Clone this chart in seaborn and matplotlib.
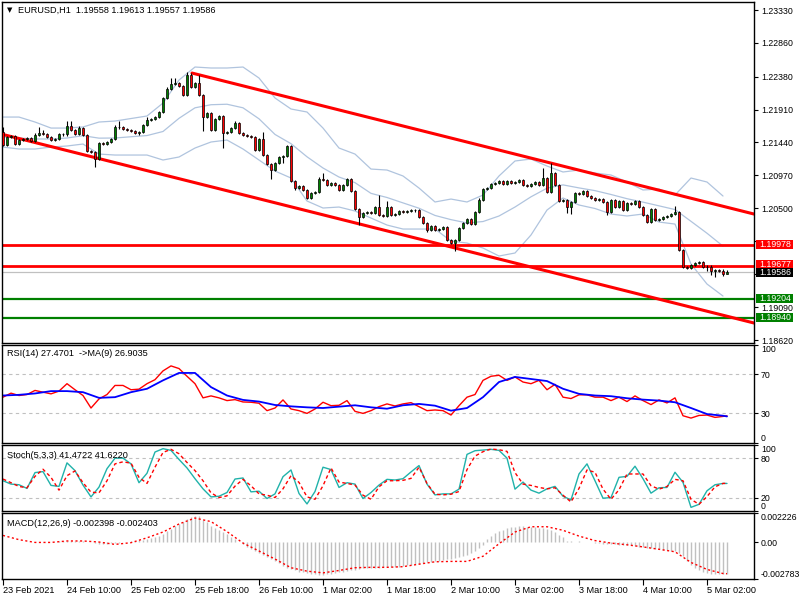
import numpy as np
import pandas as pd
import seaborn as sns
import matplotlib.pyplot as plt
from matplotlib import transforms
from matplotlib.patches import Rectangle

# ----------------------------
# EURUSD H1 candles (open of each bar = previous close)
# ----------------------------
first_open = 1.21589
close = [
    1.21404, 1.21518, 1.21532, 1.21418, 1.21475, 1.21490, 1.21504, 1.21461, 1.21547, 1.21575,
    1.21561, 1.21518, 1.21475, 1.21490, 1.21561, 1.21555, 1.21675, 1.21618, 1.21561, 1.21646,
    1.21547, 1.21318, 1.21304, 1.21204, 1.21432, 1.21425, 1.21447, 1.21490, 1.21661, 1.21655,
    1.21632, 1.21618, 1.21604, 1.21575, 1.21589, 1.21689, 1.21761, 1.21775, 1.21803, 1.21875,
    1.22075, 1.22203, 1.22274, 1.22289, 1.22246, 1.22117, 1.22403, 1.22232, 1.22289, 1.22117,
    1.21803, 1.21860, 1.21618, 1.21775, 1.21818, 1.21575, 1.21589, 1.21646, 1.21718, 1.21575,
    1.21547, 1.21532, 1.21518, 1.21333, 1.21490, 1.21261, 1.21133, 1.21047, 1.21147, 1.21233,
    1.21247, 1.21390, 1.20890, 1.20790, 1.20819, 1.20762, 1.20648, 1.20719, 1.20733, 1.20919,
    1.20904, 1.20833, 1.20862, 1.20833, 1.20762, 1.20833, 1.20919, 1.20747, 1.20491, 1.20376,
    1.20434, 1.20448, 1.20440, 1.20519, 1.20405, 1.20391, 1.20519, 1.20405, 1.20419, 1.20462,
    1.20448, 1.20462, 1.20476, 1.20470, 1.20376, 1.20291, 1.20191, 1.20248, 1.20191, 1.20205,
    1.20234, 1.20048, 1.20005, 1.20048, 1.20219, 1.20291, 1.20348, 1.20276, 1.20448, 1.20619,
    1.20776, 1.20790, 1.20847, 1.20862, 1.20890, 1.20847, 1.20890, 1.20862, 1.20876, 1.20904,
    1.20833, 1.20819, 1.20847, 1.20876, 1.20833, 1.20933, 1.20733, 1.21004, 1.20833, 1.20605,
    1.20619, 1.20519, 1.20591, 1.20719, 1.20705, 1.20747, 1.20676, 1.20648, 1.20619, 1.20633,
    1.20591, 1.20448, 1.20619, 1.20519, 1.20605, 1.20476, 1.20576, 1.20562, 1.20605, 1.20519,
    1.20405, 1.20305, 1.20491, 1.20334, 1.20348, 1.20376, 1.20391, 1.20419, 1.20448, 1.19906,
    1.19663, 1.19655, 1.19691, 1.19720, 1.19734, 1.19663, 1.19670, 1.19606, 1.19620, 1.19612,
    1.19558, 1.19586,
]
# wick lengths above / below the body, in pips
wick_up = [
    7, 2, 2, 2, 2, 2, 2, 2, 3, 9,   4, 2, 2, 2, 2, 2, 7, 7, 2, 3,
    2, 2, 2, 2, 2, 2, 2, 2, 3, 9,   2, 2, 2, 2, 2, 2, 4, 2, 2, 2,
    2, 3, 9, 7, 2, 2, 4, 3, 2, 11,  2, 2, 2, 2, 2, 2, 2, 2, 3, 2,
    2, 2, 2, 2, 2, 10, 2, 2, 2, 2,  2, 2, 2, 2, 2, 2, 2, 2, 2, 3,
    9, 2, 2, 2, 2, 2, 2, 2, 2, 2,   2, 2, 2, 2, 17, 2, 9, 2, 2, 2,
    2, 2, 2, 2, 2, 2, 2, 2, 2, 2,   2, 2, 2, 2, 2, 2, 2, 2, 2, 3,
    2, 2, 2, 2, 2, 2, 2, 2, 2, 2,   2, 2, 2, 2, 2, 14, 2, 14, 2, 2,
    2, 2, 2, 2, 2, 2, 2, 2, 2, 2,   2, 2, 2, 2, 2, 2, 2, 2, 2, 2,
    2, 2, 2, 2, 2, 2, 2, 2, 9, 2,   2, 2, 2, 2, 2, 2, 2, 2, 2, 2,
    2, 3,
]
wick_dn = [
    2, 2, 2, 2, 2, 2, 2, 2, 2, 2,   2, 2, 2, 2, 2, 2, 2, 2, 2, 2,
    2, 2, 2, 11, 2, 2, 2, 2, 2, 2,  2, 2, 2, 2, 3, 2, 2, 2, 2, 2,
    2, 2, 2, 2, 2, 2, 2, 2, 2, 2,   20, 2, 2, 2, 2, 21, 2, 2, 2, 2,
    2, 2, 2, 2, 2, 2, 2, 13, 2, 2,  9, 2, 2, 3, 2, 2, 2, 2, 2, 2,
    2, 2, 2, 2, 2, 2, 2, 2, 2, 11,  2, 2, 2, 2, 2, 2, 2, 2, 2, 2,
    2, 2, 2, 2, 2, 2, 3, 2, 2, 2,   2, 2, 2, 11, 2, 2, 2, 2, 2, 2,
    2, 2, 2, 2, 2, 2, 2, 2, 2, 2,   2, 2, 2, 2, 2, 2, 2, 2, 2, 2,
    2, 9, 10, 2, 2, 2, 2, 2, 2, 2,  2, 4, 2, 2, 2, 2, 2, 2, 2, 2,
    2, 2, 2, 2, 2, 2, 2, 2, 2, 2,   2, 2, 2, 2, 2, 2, 6, 6, 8, 2,
    3, 0,
]

# Bollinger bands (20, 2), read every 4th bar
bb_bars = list(range(0, 181, 4))
bb_upper = [
    1.21803, 1.21803, 1.21732, 1.21646, 1.21646, 1.21661, 1.21732, 1.21746, 1.21782, 1.21818,
    1.22003, 1.22331, 1.22517, 1.22503, 1.22503, 1.22517, 1.22360, 1.22075, 1.21918, 1.21875,
    1.21646, 1.21361, 1.21275, 1.21061, 1.21047, 1.20962, 1.20790, 1.20591, 1.20633, 1.20591,
    1.20690, 1.20962, 1.21176, 1.21204, 1.21104, 1.21019, 1.21047, 1.21004, 1.20976, 1.20876,
    1.20762, 1.20776, 1.20690, 1.20933, 1.20876, 1.20676,
]
bb_mid = [
    1.21518, 1.21504, 1.21490, 1.21490, 1.21504, 1.21537, 1.21502, 1.21504, 1.21522, 1.21539,
    1.21597, 1.21785, 1.21935, 1.21979, 1.21986, 1.21935, 1.21778, 1.21555, 1.21423, 1.21236,
    1.21076, 1.20947, 1.20867, 1.20714, 1.20655, 1.20578, 1.20502, 1.20399, 1.20339, 1.20292,
    1.20312, 1.20391, 1.20519, 1.20665, 1.20788, 1.20835, 1.20792, 1.20753, 1.20698, 1.20638,
    1.20589, 1.20536, 1.20483, 1.20315, 1.20145, 1.19961,
]
bb_lower = [
    1.21375, 1.21347, 1.21347, 1.21375, 1.21390, 1.21418, 1.21275, 1.21261, 1.21261, 1.21261,
    1.21190, 1.21233, 1.21361, 1.21447, 1.21475, 1.21347, 1.21190, 1.21033, 1.20933, 1.20605,
    1.20505, 1.20519, 1.20462, 1.20362, 1.20262, 1.20205, 1.20205, 1.20205, 1.20034, 1.20005,
    1.19934, 1.19820, 1.19863, 1.20120, 1.20476, 1.20648, 1.20548, 1.20498, 1.20419, 1.20391,
    1.20419, 1.20305, 1.20276, 1.19706, 1.19420, 1.19249,
]

# trend channel anchors (bar, price) and horizontal levels
chan_upper_bars = [47.25, 187.75]
chan_upper_px = [1.22431, 1.20419]
chan_lower_bars = [-0.2, 187.75]
chan_lower_px = [1.21557, 1.18864]
red_levels = [1.19978, 1.19677]
green_levels = [1.19204, 1.18940]
bid = 1.19586

price_ticks = [1.23330, 1.22860, 1.22380, 1.21910, 1.21440, 1.20970,
               1.20500, 1.20030, 1.19560, 1.19090, 1.18620]
price_tick_labels = ["1.23330", "1.22860", "1.22380", "1.21910", "1.21440", "1.20970",
                     "1.20500", "", "", "1.19090", "1.18620"]   # two sit under the boxes

# ----------------------------
# Indicators
# ----------------------------
rsi_bars = list(range(0, 181, 2)) + [181]
rsi = [
    46.6, 50.7, 48.3, 49.3, 53.5, 51.7, 50.0, 52.8, 60.4, 54.2,
    48.3, 35.5, 44.8, 49.3, 58.6, 58.6, 54.2, 54.8, 60.4, 64.5,
    73.5, 78.6, 75.9, 68.0, 60.4, 45.9, 47.9, 45.9, 43.1, 44.1,
    41.7, 41.4, 40.4, 32.8, 35.5, 43.8, 34.5, 32.8, 30.0, 34.5,
    41.4, 37.9, 38.3, 43.1, 32.1, 30.0, 32.8, 36.9, 39.7, 37.6,
    39.7, 41.0, 36.9, 32.8, 33.5, 32.8, 28.3, 37.9, 46.6, 49.3,
    63.8, 68.0, 69.0, 63.8, 67.3, 62.1, 60.4, 63.8, 54.2, 59.7,
    46.6, 45.2, 49.0, 49.0, 46.6, 46.6, 43.1, 46.6, 42.1, 47.9,
    43.1, 39.0, 43.8, 40.7, 45.9, 27.6, 25.2, 27.9, 28.3, 25.9,
    26.9, 27.47,
]
rsi_ma_bars = list(range(0, 181, 4)) + [181]
rsi_ma = [
    48.3, 49.0, 50.4, 52.8, 52.8, 51.7, 45.9, 46.6, 51.7, 55.2,
    63.8, 71.4, 71.4, 56.9, 48.3, 43.8, 42.1, 38.6, 37.2, 36.2,
    35.5, 36.9, 38.3, 36.2, 34.8, 38.3, 39.7, 37.9, 32.8, 35.5,
    46.6, 62.1, 67.3, 65.2, 63.1, 55.2, 50.0, 48.3, 47.6, 45.5,
    44.1, 43.1, 41.4, 35.5, 29.3, 27.6, 26.9,
]

stoch_bars = list(range(0, 181, 2)) + [181]
stoch_k = [
    45.6, 40.5, 39.5, 33.9, 58.0, 59.5, 38.5, 37.0, 72.8, 61.0,
    39.0, 21.0, 35.9, 64.0, 80.0, 80.0, 71.3, 42.6, 57.0, 89.3,
    94.4, 91.8, 78.0, 65.1, 48.7, 33.3, 21.0, 22.0, 27.7, 48.2,
    49.8, 28.7, 29.7, 18.5, 25.6, 51.8, 62.0, 26.2, 10.3, 29.2,
    66.2, 62.6, 35.4, 42.6, 40.5, 18.5, 27.7, 39.0, 47.7, 46.7,
    48.7, 59.0, 68.7, 40.5, 24.1, 25.6, 25.6, 32.8, 85.7, 91.3,
    92.3, 93.4, 91.8, 80.0, 32.8, 43.6, 31.3, 26.7, 33.3, 37.0,
    22.0, 16.4, 55.9, 71.3, 45.6, 19.0, 20.0, 50.8, 52.3, 67.7,
    48.7, 26.7, 34.9, 35.4, 58.5, 43.1, 5.1, 9.7, 30.3, 39.5,
    41.5, 41.47,
]
stoch_d = [
    48.2, 42.6, 36.9, 34.9, 52.3, 63.1, 50.8, 31.3, 53.3, 60.5,
    42.6, 28.2, 27.2, 45.6, 71.3, 74.4, 72.3, 50.8, 41.5, 66.2,
    88.7, 93.4, 86.7, 73.4, 61.0, 45.6, 27.2, 20.0, 22.6, 37.4,
    47.7, 38.0, 25.6, 23.6, 20.0, 33.3, 53.3, 43.1, 21.0, 17.4,
    38.0, 65.1, 43.6, 41.5, 39.0, 23.6, 17.4, 36.4, 45.6, 45.6,
    46.2, 49.2, 66.2, 41.5, 25.1, 24.1, 25.1, 29.2, 62.6, 83.1,
    89.8, 93.9, 92.8, 90.3, 58.0, 40.5, 38.5, 35.4, 33.3, 34.9,
    23.6, 13.3, 33.9, 62.0, 58.5, 32.8, 17.4, 31.8, 55.9, 55.9,
    55.9, 38.0, 32.8, 36.9, 47.7, 45.6, 17.4, 9.7, 21.5, 36.4,
    41.5, 41.62,
]

# MACD main (histogram) per bar and signal every 4th bar, in pips
macd_pips = [
    0.3, 0.2, 0.1, 0.0, -0.1, -0.1, 0.0, 0.0, 0.1, 0.1,
    0.2, 0.2, 0.3, 0.4, 0.5, 0.6, 0.8, 0.9, 0.8, 0.7,
    0.5, 0.2, -0.2, -0.8, -1.2, -1.3, -1.2, -1.0, -0.7, -0.4,
    0.0, 0.3, 0.6, 0.9, 1.2, 1.6, 2.0, 2.7, 3.5, 4.5,
    6.0, 8.0, 10.0, 12.0, 13.8, 15.5, 17.5, 19.0, 20.0, 19.5,
    17.0, 15.0, 12.5, 11.0, 9.0, 7.5, 6.0, 4.0, 2.0, 0.0,
    -1.5, -3.5, -5.0, -6.5, -8.0, -9.5, -11.0, -13.0, -14.5, -16.0,
    -18.0, -19.5, -20.5, -21.5, -22.5, -23.0, -23.5, -24.0, -24.5, -25.0,
    -25.0, -24.5, -24.0, -23.5, -23.0, -22.5, -22.0, -21.5, -21.0, -20.5,
    -20.0, -19.8, -19.6, -19.5, -19.4, -19.3, -19.2, -19.0, -18.9, -18.6,
    -18.2, -17.6, -17.1, -16.7, -16.3, -15.9, -15.5, -15.1, -14.7, -14.2,
    -13.7, -13.0, -12.5, -12.0, -11.5, -10.8, -9.5, -8.0, -6.5, -4.5,
    -2.0, 2.0, 4.5, 6.5, 8.0, 9.5, 10.5, 11.2, 11.6, 11.8,
    11.8, 11.6, 11.5, 11.3, 11.0, 10.5, 10.0, 9.0, 7.5, 5.5,
    3.5, 1.0, 0.5, 0.3, 0.5, 0.3, 0.0, -0.3, -0.6, -0.9,
    -1.2, -1.5, -1.7, -1.8, -1.9, -2.0, -2.1, -2.5, -3.0, -3.5,
    -4.0, -4.3, -4.6, -5.0, -5.4, -5.8, -6.2, -6.6, -7.0, -8.0,
    -10.5, -14.5, -17.5, -20.0, -21.5, -22.8, -23.5, -24.2, -24.5, -24.5,
    -24.2, -23.98,
]
signal_bars = list(range(0, 181, 4)) + [181]
signal_pips = [
    5.0, 1.8, -0.3, -0.3, 0.8, 0.8, 0.0, -1.8, -0.5, 3.2,
    7.6, 13.7, 18.2, 15.5, 7.9, -0.8, -6.8, -12.9, -19.5, -22.1,
    -23.4, -21.6, -19.5, -19.2, -19.2, -18.7, -16.8, -15.0, -14.7, -14.7,
    -10.8, -1.3, 7.6, 11.6, 11.6, 8.9, 4.5, 1.1, -0.8, -2.1,
    -3.7, -5.5, -7.4, -15.5, -20.8, -23.9, -24.03,
]

time_tick_bars = [0, 16, 32, 48, 64, 80, 96, 112, 128, 144, 160, 176]
time_labels = ["23 Feb 2021", "24 Feb 10:00", "25 Feb 02:00", "25 Feb 18:00",
               "26 Feb 10:00", "1 Mar 02:00", "1 Mar 18:00", "2 Mar 10:00",
               "3 Mar 02:00", "3 Mar 18:00", "4 Mar 10:00", "5 Mar 02:00"]

# ----------------------------
# Frames
# ----------------------------
candles = pd.DataFrame({"close": close, "wick_up": wick_up, "wick_dn": wick_dn})
candles["bar"] = np.arange(len(candles))
candles["open"] = candles["close"].shift(1).fillna(first_open)
candles["high"] = candles[["open", "close"]].max(axis=1) + candles["wick_up"] / 1e4
candles["low"] = candles[["open", "close"]].min(axis=1) - candles["wick_dn"] / 1e4
bb = pd.DataFrame({"bar": bb_bars, "upper": bb_upper, "mid": bb_mid, "lower": bb_lower})

sns.set_theme(style="white")
plt.rcParams["font.family"] = ["Liberation Sans", "DejaVu Sans"]
plt.rcParams["axes.edgecolor"] = "black"
plt.rcParams["axes.linewidth"] = 1.0

W, H = 800, 600
fig = plt.figure(figsize=(8, 6), dpi=100)


def panel(top, bottom, left=2.3, right=754.3):
    return fig.add_axes([left / W, 1 - bottom / H, (right - left) / W, (bottom - top) / H])


ax = panel(1.5, 342.7)
ax_rsi = panel(345.0, 442.7)
ax_st = panel(445.0, 510.7)
ax_md = panel(512.7, 578.7)

XLIM = (-0.175, 187.825)
YLIM = (1.18583, 1.23452)
FS = 6.6    # text size
FSY = 6.3   # right scale size

# ---- main price panel ----
for col in ["upper", "mid", "lower"]:
    sns.lineplot(data=bb, x="bar", y=col, ax=ax, color="#b0c4de", lw=0.9, zorder=1)

ax.axhline(bid, color="#c0c0c0", lw=0.9, zorder=1.5)
for lv in red_levels:
    ax.axhline(lv, color="#ff0000", lw=2.0, zorder=2)
for lv in green_levels:
    ax.axhline(lv, color="#008000", lw=1.6, zorder=2)
ax.plot(chan_upper_bars, chan_upper_px, color="#ff0000", lw=2.2, zorder=2)
ax.plot(chan_lower_bars, chan_lower_px, color="#ff0000", lw=2.2, zorder=2)

ax.vlines(candles["bar"], candles["low"], candles["high"], color="black", lw=0.8, zorder=3)
body_col = np.where(candles["close"] >= candles["open"], "#008000", "#ff0000")
ax.bar(candles["bar"], candles["close"] - candles["open"], bottom=candles["open"],
       width=0.72, color=body_col, edgecolor="black", linewidth=0.5, zorder=4)

ax.set_ylim(*YLIM)
ax.set_yticks(price_ticks)
ax.set_yticklabels(price_tick_labels)

# coloured price boxes on the scale
px_per_unit = 341.2 / (YLIM[1] - YLIM[0])
box_h = 9.0 / px_per_unit
trans = transforms.blended_transform_factory(ax.transAxes, ax.transData)
boxes = [(red_levels[0], 0.0, "#ff0000"), (red_levels[1], 1.5, "#ff0000"),
         (bid, -0.5, "black"), (green_levels[0], 0.5, "#008000"),
         (green_levels[1], 0.0, "#008000")]
for val, shift_px, fc in boxes:
    yc = val + shift_px / px_per_unit
    ax.add_patch(Rectangle((1.0 + 1.5 / 752, yc - box_h / 2), 37.5 / 752, box_h,
                           transform=trans, fc=fc, ec=fc, lw=0, clip_on=False, zorder=20))
    ax.text(1.0 + 5.0 / 752, yc, f"{val:.5f}", transform=trans, ha="left", va="center",
            fontsize=FSY, color="white", clip_on=False, zorder=21)

# ---- RSI ----
sns.lineplot(x=rsi_bars, y=rsi, ax=ax_rsi, color="#ff0000", lw=1.0)
sns.lineplot(x=rsi_ma_bars, y=rsi_ma, ax=ax_rsi, color="#0000ff", lw=1.3)
for lv in [70, 30]:
    ax_rsi.axhline(lv, color="#c0c0c0", lw=0.8, ls=(0, (3, 3)), zorder=0)
ax_rsi.set_ylim(0, 100)
ax_rsi.set_yticks([0, 30, 70, 100])
ax_rsi.set_yticklabels(["0", "30", "70", "100"])

# ---- Stochastic ----
sns.lineplot(x=stoch_bars, y=stoch_k, ax=ax_st, color="#20b2aa", lw=1.0)
sns.lineplot(x=stoch_bars, y=stoch_d, ax=ax_st, color="#ff0000", lw=1.0, linestyle=(0, (2.5, 2)))
for lv in [80, 20]:
    ax_st.axhline(lv, color="#c0c0c0", lw=0.8, ls=(0, (3, 3)), zorder=0)
ax_st.set_ylim(0, 100)
ax_st.set_yticks([0, 20, 80, 100])
ax_st.set_yticklabels(["0", "20", "80", "100"])

# ---- MACD ----
macd = np.array(macd_pips) / 1e4
ax_md.vlines(np.arange(len(macd)), 0, macd, color="#c0c0c0", lw=1.0)
sns.lineplot(x=signal_bars, y=np.array(signal_pips) / 1e4, ax=ax_md, color="#ff0000",
             lw=1.0, linestyle=(0, (1.5, 1.8)))
ax_md.set_ylim(-0.002783, 0.002226)
ax_md.set_yticks([-0.002783, 0.0, 0.002226])
ax_md.set_yticklabels(["-0.002783", "0.00", "0.002226"])

for a in [ax, ax_rsi, ax_st, ax_md]:
    a.set_xlim(*XLIM)
    a.set_xlabel("")
    a.set_ylabel("")
    a.yaxis.tick_right()
    a.tick_params(axis="y", direction="out", length=3, width=0.8, pad=1.8,
                  labelsize=FSY, colors="black", right=True, left=False)
    for s in a.spines.values():
        s.set_color("black")
        s.set_linewidth(1.0)
    if a is not ax_md:
        a.set_xticks([])

# min / max labels sit inside the sub-window, as in the terminal
for a in [ax_rsi, ax_st, ax_md]:
    lbls = a.get_yticklabels()
    lbls[0].set_va("bottom")
    lbls[-1].set_va("top")

ax_md.set_xticks(time_tick_bars)
ax_md.set_xticklabels(time_labels, ha="left")
ax_md.tick_params(axis="x", direction="out", length=4, width=0.8, pad=1.5,
                  labelsize=FS, colors="black", bottom=True)

# headers
fig.text(7 / W, 1 - 10 / H, "\u25bc", fontsize=5, va="center", ha="left",
         family="DejaVu Sans", color="black")
fig.text(18 / W, 1 - 10.5 / H, "EURUSD,H1  1.19558 1.19613 1.19557 1.19586",
         fontsize=FS, va="center", ha="left", color="black")
fig.text(7 / W, 1 - 353 / H, "RSI(14) 27.4701  ->MA(9) 26.9035",
         fontsize=FS, va="center", ha="left", color="black")
fig.text(7 / W, 1 - 455 / H, "Stoch(5,3,3) 41.4722 41.6220",
         fontsize=FS, va="center", ha="left", color="black")
fig.text(7 / W, 1 - 523.5 / H, "MACD(12,26,9) -0.002398 -0.002403",
         fontsize=FS, va="center", ha="left", color="black")

plt.savefig("out.png", dpi=100)
